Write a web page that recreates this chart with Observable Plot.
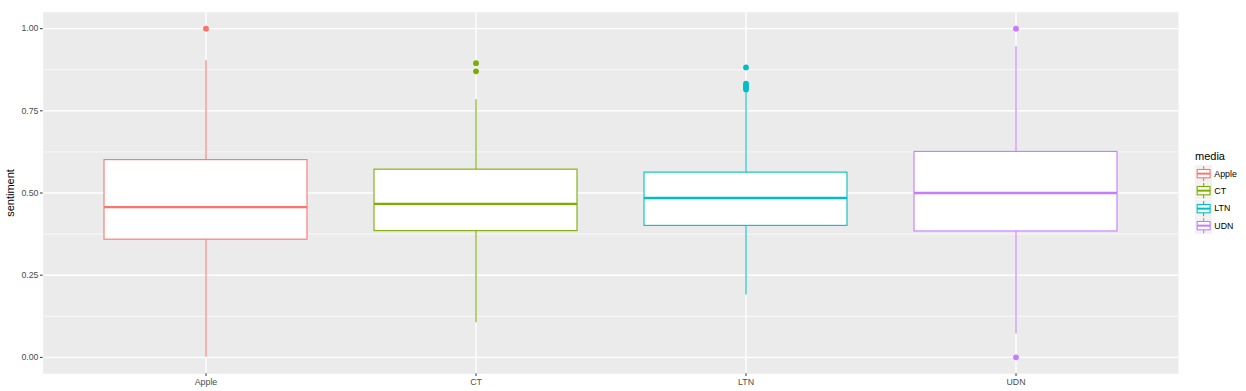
<!DOCTYPE html>
<html>
<head>
<meta charset="utf-8">
<script src="https://cdn.jsdelivr.net/npm/d3@7"></script>
<script src="https://cdn.jsdelivr.net/npm/@observablehq/plot@0.6"></script>
<style>
  html, body { margin: 0; padding: 0; background: #fff; }
  #wrap { position: relative; width: 1246px; height: 391px; font-family: "Liberation Sans", Arial, sans-serif; }
  #legend { position: absolute; left: 1195px; top: 150px; }
  #legend .title { font-size: 11px; color: #000; margin-bottom: 3px; }
  #legend .row { display: flex; align-items: center; height: 17.3px; }
  #legend .row span { font-size: 8.8px; color: #000; margin-left: 2px; }
</style>
</head>
<body>
<div id="wrap"><div id="chart"></div><div id="legend"></div></div>
<script>
const media = ["Apple", "CT", "LTN", "UDN"];
const colors = ["#F8766D", "#7CAE00", "#00BFC4", "#C77CFF"];
const lowerWhisker = [0.0, 0.105, 0.19, 0.071];
const q1 = [0.358, 0.384, 0.400, 0.383];
const median = [0.457, 0.467, 0.485, 0.500];
const q3 = [0.600, 0.571, 0.562, 0.625];
const upperWhisker = [0.902, 0.784, 0.806, 0.945];
const outlierMedia = ["Apple", "CT", "CT", "LTN", "LTN", "LTN", "LTN", "LTN", "UDN", "UDN"];
const outlierValues = [1.0, 0.895, 0.870, 0.882, 0.833, 0.827, 0.821, 0.815, 1.0, 0.0];
const yMajor = [0, 0.25, 0.5, 0.75, 1.0];
const yMinor = [0.125, 0.375, 0.625, 0.875];

const stats = media.map((m, i) => ({
  media: m, lo: lowerWhisker[i], q1: q1[i], med: median[i], q3: q3[i], hi: upperWhisker[i]
}));
const outliers = outlierMedia.map((m, i) => ({ media: m, value: outlierValues[i] }));

const chart = Plot.plot({
  width: 1246,
  height: 391,
  marginTop: 11.7,
  marginBottom: 17.7,
  marginLeft: 42.7,
  marginRight: 68,
  style: { fontFamily: "Liberation Sans, Arial, sans-serif", background: "white" },
  x: { type: "band", domain: media, paddingInner: 0.25, paddingOuter: 0.225 },
  y: { domain: [-0.05, 1.05] },
  color: { domain: media, range: colors },
  marks: [
    Plot.frame({ fill: "#EBEBEB", stroke: null }),
    Plot.ruleY(yMinor, { stroke: "white", strokeWidth: 0.7 }),
    Plot.ruleY(yMajor, { stroke: "white", strokeWidth: 1.4 }),
    Plot.ruleX(media, { x: d => d, stroke: "white", strokeWidth: 1.4 }),
    Plot.ruleX(stats, { x: "media", y1: "lo", y2: "q1", stroke: "media", strokeWidth: 1.1 }),
    Plot.ruleX(stats, { x: "media", y1: "q3", y2: "hi", stroke: "media", strokeWidth: 1.1 }),
    Plot.barY(stats, { x: "media", y1: "q1", y2: "q3", fill: "white", stroke: "media", strokeWidth: 1.1, inset: 0 }),
    Plot.tickY(stats, { x: "media", y: "med", stroke: "media", strokeWidth: 2.4 }),
    Plot.dot(outliers, { x: "media", y: "value", fill: "media", r: 2.9, stroke: null }),
    Plot.axisY({
      ticks: yMajor, tickFormat: d3.format(".2f"), tickSize: 2.7, tickPadding: 2,
      fontSize: 8.8, color: "#4D4D4D", stroke: "#333",
      label: "sentiment", labelAnchor: "center", labelArrow: "none", labelOffset: 37
    }),
    Plot.axisX({ tickSize: 2.7, tickPadding: 2, fontSize: 8.8, color: "#4D4D4D", stroke: "#333", label: null })
  ]
});
document.getElementById("chart").appendChild(chart);
chart.querySelectorAll("text").forEach(t => {
  if (t.textContent === "sentiment") { t.setAttribute("font-size", "11"); t.style.fill = "#000"; }
});

// legend
const lg = document.getElementById("legend");
const title = document.createElement("div");
title.className = "title"; title.textContent = "media";
lg.appendChild(title);
media.forEach((m, i) => {
  const row = document.createElement("div"); row.className = "row";
  const svg = d3.create("svg").attr("width", 17.3).attr("height", 17.3);
  svg.append("rect").attr("width", 17.3).attr("height", 17.3).attr("fill", "#F2F2F2");
  const g = svg.append("g").attr("stroke", colors[i]).attr("fill", "white").attr("stroke-width", 1.1);
  g.append("line").attr("x1", 8.65).attr("x2", 8.65).attr("y1", 1).attr("y2", 4.5);
  g.append("line").attr("x1", 8.65).attr("x2", 8.65).attr("y1", 12.8).attr("y2", 16.3);
  g.append("rect").attr("x", 2.2).attr("y", 4.5).attr("width", 12.9).attr("height", 8.3);
  g.append("line").attr("x1", 2.2).attr("x2", 15.1).attr("y1", 8.65).attr("y2", 8.65).attr("stroke-width", 2);
  row.appendChild(svg.node());
  const s = document.createElement("span"); s.textContent = m;
  row.appendChild(s);
  lg.appendChild(row);
});
</script>
</body>
</html>
